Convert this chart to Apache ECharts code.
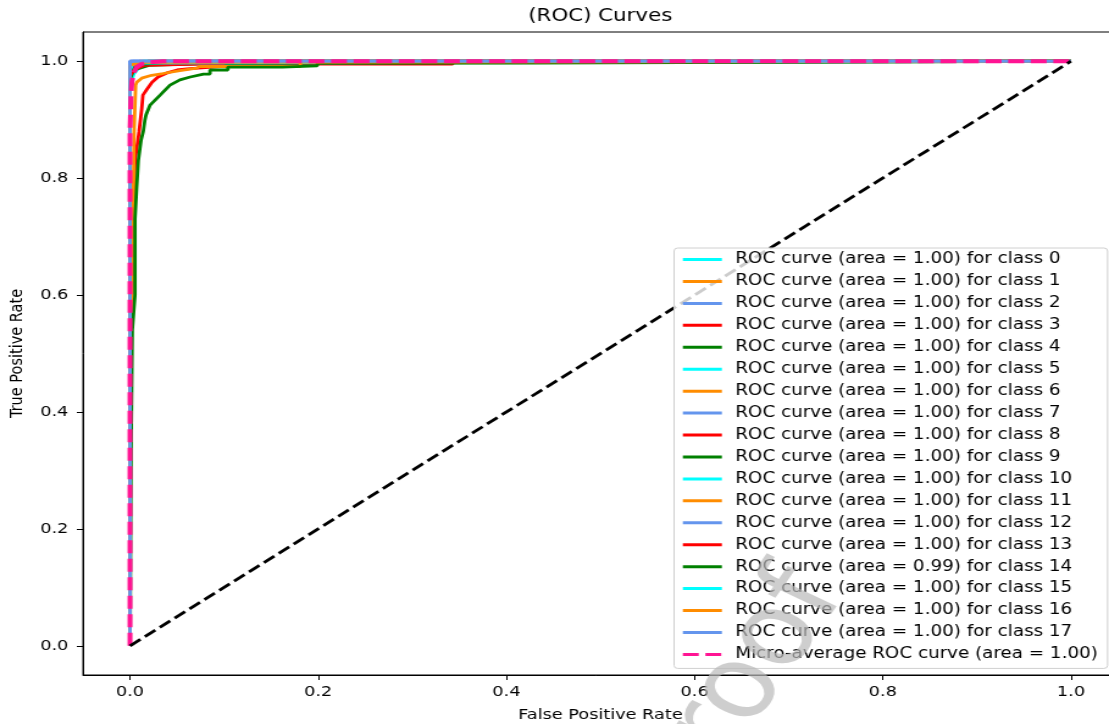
<!DOCTYPE html>
<html><head><meta charset="utf-8">
<script src="https://cdn.jsdelivr.net/npm/echarts@6/dist/echarts.min.js"></script>
<style>
html,body{margin:0;padding:0;background:#fff;overflow:hidden;width:1109px;height:724px}
#chart{width:909px;height:724px;transform:scaleX(1.22);transform-origin:0 0;}
</style></head><body><div id="chart"></div>
<script>
// ---- data ----
const classIds = [0,1,2,3,4,5,6,7,8,9,10,11,12,13,14,15,16,17];
const aucLabels = ['1.00','1.00','1.00','1.00','1.00','1.00','1.00','1.00','1.00','1.00','1.00','1.00','1.00','1.00','0.99','1.00','1.00','1.00'];
const microAuc = '1.00';
const tickValues = [0, 0.2, 0.4, 0.6, 0.8, 1.0];

const curve0  = [[0,0],[0,0.955],[0.002,0.968],[0.004,0.978],[0.008,0.986],[0.014,0.992],[0.022,0.996],[0.032,0.998],[0.032,1],[1,1]];
const curve1  = [[0,0],[0,0.98],[0.004,0.992],[0.03,0.996],[0.05,0.998],[0.05,1],[1,1]];
const curve2  = [[0,0],[0,1],[1,1]];
const curve3  = [[0,0],[0,0.45],[0.001,0.45],[0.002,0.6],[0.0037,0.75],[0.0053,0.83],[0.0096,0.879],[0.0124,0.918],[0.0137,0.942],[0.018,0.952],[0.0234,0.964],[0.0298,0.973],[0.0393,0.98],[0.05,0.985],[0.0606,0.987],[0.0956,0.991],[0.101,0.991],[0.101,0.995],[0.343,0.995],[0.343,1],[1,1]];
const curve4  = [[0,0],[0,0.97],[0.004,0.985],[0.02,0.993],[0.08,0.996],[0.2,0.997],[0.2,1],[1,1]];
const curve5  = [[0,0],[0,0.98],[0.003,0.99],[0.012,0.998],[0.012,1],[1,1]];
const curve6  = [[0,0],[0,0.99],[0.002,0.996],[0.01,1],[1,1]];
const curve7  = [[0,0],[0,0.995],[0.003,1],[1,1]];
const curve8  = [[0,0],[0,0.975],[0.004,0.985],[0.015,0.993],[0.1,0.996],[0.1,1],[1,1]];
const curve9  = [[0,0],[0,0.985],[0.006,0.994],[0.04,0.998],[0.04,1],[1,1]];
const curve10 = [[0,0],[0,0.99],[0.005,0.997],[0.005,1],[1,1]];
const curve11 = [[0,0],[0,0.42],[0.0024,0.42],[0.0024,0.65],[0.0035,0.75],[0.0043,0.879],[0.006,0.959],[0.0071,0.964],[0.0124,0.971],[0.023,0.976],[0.035,0.979],[0.053,0.984],[0.071,0.988],[0.074,0.991],[0.181,0.991],[0.181,1],[1,1]];
const curve12 = [[0,0],[0,1],[1,1]];
const curve13 = [[0,0],[0,0.99],[0.005,0.995],[0.02,1],[1,1]];
const curve14 = [[0,0],[0.0012,0.35],[0.0024,0.54],[0.0053,0.60],[0.0053,0.73],[0.0071,0.785],[0.0088,0.83],[0.0117,0.865],[0.0141,0.88],[0.0159,0.90],[0.017,0.908],[0.0213,0.925],[0.032,0.942],[0.0425,0.959],[0.053,0.968],[0.064,0.973],[0.078,0.978],[0.085,0.978],[0.085,0.985],[0.104,0.985],[0.104,0.990],[0.162,0.990],[0.162,0.992],[0.199,0.992],[0.199,0.9966],[0.423,0.9966],[0.423,1.0],[1,1]];
const curve15 = [[0,0],[0,0.985],[0.002,0.993],[0.008,0.998],[0.015,1],[1,1]];
const curve16 = [[0,0],[0,0.993],[0.01,0.998],[0.01,1],[1,1]];
const curve17 = [[0,0],[0,1],[1,1]];
const microCurve = [[0,0],[0,0.88],[0.001,0.94],[0.002,0.965],[0.004,0.98],[0.007,0.99],[0.012,0.995],[0.02,0.998],[0.035,1],[1,1]];
const diagonal = [[0,0],[1,1]];

const curves = [curve0,curve1,curve2,curve3,curve4,curve5,curve6,curve7,curve8,curve9,curve10,curve11,curve12,curve13,curve14,curve15,curve16,curve17];

// ---- style ----
const colorCycle = ['#00FFFF','#FF8C00','#6495ED','#FF0000','#008000'];
const FONT = 'DejaVu Sans';

const names = classIds.map((c,i)=>`ROC curve (area = ${aucLabels[i]}) for class ${c}`);
const microName = `Micro-average ROC curve (area = ${microAuc})`;

const series = classIds.map((c,i)=>({
  name: names[i], type:'line', data: curves[i], showSymbol:false, symbol:'none',
  animation:false, silent:true,
  lineStyle:{color:colorCycle[i%5], width:2.8},
  itemStyle:{color:colorCycle[i%5]}
}));
series.push({
  name: microName, type:'line', data: microCurve, showSymbol:false, symbol:'none',
  animation:false, silent:true,
  lineStyle:{color:'#FF1493', width:4, type:[13,5.5]},
  itemStyle:{color:'#FF1493'}
});
series.push({
  name: 'diag', type:'line', data: diagonal, showSymbol:false, symbol:'none',
  animation:false, silent:true,
  lineStyle:{color:'#000', width:2.8, type:[10.7,4.6]},
  itemStyle:{color:'#000'}
});

const axisCommon = {
  type:'value', min:-0.05, max:1.05, nameLocation:'middle',
  nameTextStyle:{fontSize:14.5, color:'#000', fontFamily:FONT},
  axisLine:{show:true, onZero:false, lineStyle:{color:'#000', width:1}},
  axisTick:{show:true, customValues:tickValues, length:5, lineStyle:{color:'#000', width:1}},
  axisLabel:{customValues:tickValues, formatter:v=>v.toFixed(1), fontSize:14.5, color:'#000', fontFamily:FONT},
  splitLine:{show:false}
};

const chart = echarts.init(document.getElementById('chart'));
chart.setOption({
  animation:false,
  backgroundColor:'#fff',
  title:{text:'(ROC) Curves', left:492, top:7, textAlign:'center', padding:0,
    textStyle:{fontSize:17.5, fontWeight:'normal', color:'#000', fontFamily:FONT}},
  grid:{left:68, top:32, width:848.4, height:643, outerBoundsMode:'none', containLabel:false,
    show:true, borderColor:'#000', borderWidth:1, backgroundColor:'transparent'},
  xAxis: Object.assign({}, axisCommon, {name:'False Positive Rate', nameGap:33,
    axisLabel:Object.assign({}, axisCommon.axisLabel, {margin:10})}),
  yAxis: Object.assign({}, axisCommon, {name:'True Positive Rate', nameGap:41,
    axisLabel:Object.assign({}, axisCommon.axisLabel, {margin:12})}),
  legend:{
    data: names.concat([microName]), orient:'vertical', left:552.5, top:248,
    itemWidth:32, itemHeight:16, itemGap:5.94,
    padding:[3.5,8,6,5.7],
    itemStyle:{opacity:0},
    lineStyle:{width:3},
    backgroundColor:'rgba(255,255,255,0.8)', borderColor:'#d0d0d0', borderWidth:1, borderRadius:3,
    textStyle:{fontSize:15, color:'#000', fontFamily:FONT, lineHeight:16, padding:[0,0,0,6]},
    selectedMode:false
  },
  graphic:[{
    type:'text', left:500, top:555, rotation: 60*Math.PI/180, z:100, silent:true,
    style:{text:'Proof', fontSize:100, fill:'rgba(185,185,185,0.7)', fontFamily:FONT}
  }],
  series: series
});
</script></body></html>
